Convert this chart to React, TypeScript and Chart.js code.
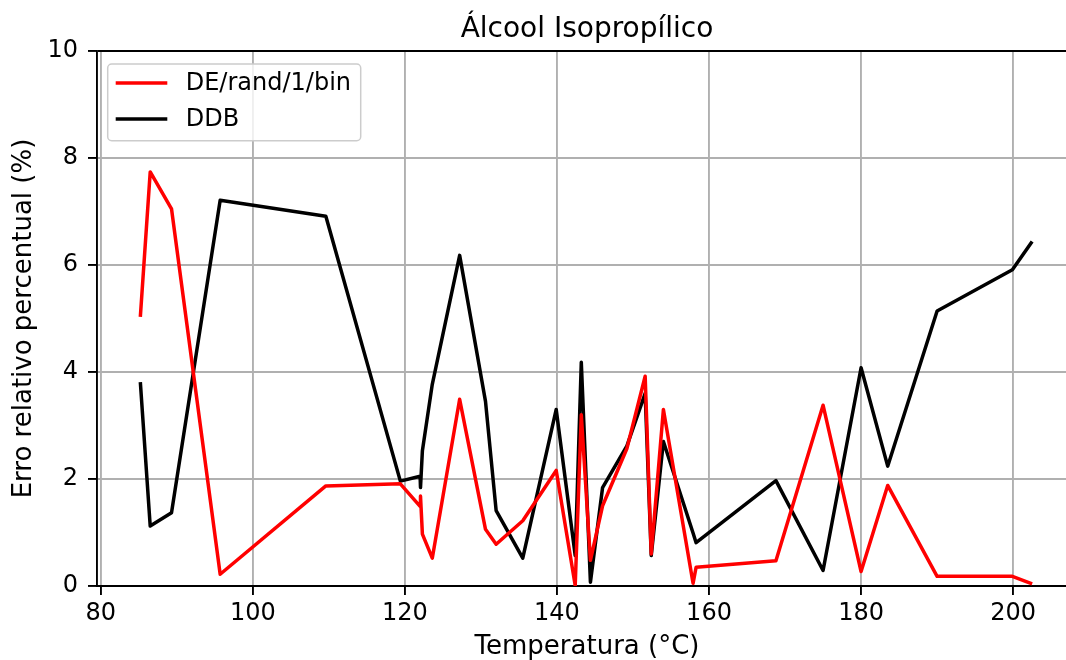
import React, { useEffect, useRef } from "react";
import { Chart, registerables } from "chart.js";

Chart.register(...registerables);

const TITLE = "Álcool Isopropílico";
const X_LABEL = "Temperatura (°C)";
const Y_LABEL = "Erro relativo percentual (%)";
const SERIES_NAMES = ["DE/rand/1/bin", "DDB"];

const temperatures = [
  85.2, 86.5, 89.3, 95.7, 109.6, 119.4, 122.0, 122.05, 122.3, 123.6,
  127.2, 130.6, 132.0, 135.5, 139.9, 142.4, 143.2, 144.4, 146.0, 149.2,
  151.6, 152.4, 154.0, 157.9, 158.3, 168.8, 175.0, 180.0, 183.5, 190.0,
  199.9, 202.5,
];
const deRand1Bin = [
  5.03, 7.74, 7.05, 0.22, 1.87, 1.91, 1.49, 1.68, 0.97, 0.52,
  3.49, 1.06, 0.78, 1.22, 2.16, 0.01, 3.2, 0.48, 1.5, 2.57,
  3.92, 0.6, 3.3, 0.05, 0.35, 0.47, 3.38, 0.27, 1.88, 0.18,
  0.18, 0.04,
];
const ddb = [
  3.81, 1.12, 1.37, 7.21, 6.91, 1.96, 2.05, 1.84, 2.53, 3.77,
  6.18, 3.45, 1.41, 0.52, 3.3, 0.57, 4.18, 0.07, 1.84, 2.62,
  3.6, 0.57, 2.7, 0.99, 0.81, 1.97, 0.29, 4.08, 2.24, 5.14,
  5.91, 6.44,
];
const xTicks = [80, 100, 120, 140, 160, 180, 200];
const yTicks = [0, 2, 4, 6, 8, 10];

const FONT = "DejaVu Sans";

const titlePlugin = {
  id: "mplTitle",
  afterDraw(chart: any) {
    const { ctx, chartArea } = chart;
    ctx.save();
    ctx.font = `28px "${FONT}"`;
    ctx.fillStyle = "#000";
    ctx.textAlign = "center";
    ctx.textBaseline = "alphabetic";
    ctx.fillText(TITLE, (chartArea.left + chartArea.right) / 2, 37);
    ctx.restore();
  },
};

const legendPlugin = {
  id: "mplLegend",
  afterDatasetsDraw(chart: any) {
    const { ctx } = chart;
    const x0 = 107.7, y0 = 64, w = 253, h = 76.7;
    ctx.save();
    ctx.beginPath();
    if (ctx.roundRect) ctx.roundRect(x0, y0, w, h, 4);
    else ctx.rect(x0, y0, w, h);
    ctx.fillStyle = "rgba(255,255,255,0.8)";
    ctx.fill();
    ctx.lineWidth = 1.5;
    ctx.strokeStyle = "#cccccc";
    ctx.stroke();
    const rows = [83, 119];
    chart.data.datasets.forEach((ds: any, i: number) => {
      const y = rows[i];
      ctx.beginPath();
      ctx.moveTo(115.7, y);
      ctx.lineTo(167.3, y);
      ctx.strokeStyle = ds.borderColor;
      ctx.lineWidth = 3.5;
      ctx.lineCap = "butt";
      ctx.stroke();
      ctx.font = `24px "${FONT}"`;
      ctx.fillStyle = "#000";
      ctx.textAlign = "left";
      ctx.textBaseline = "middle";
      ctx.fillText(ds.label, 185.7, y + 1);
    });
    ctx.restore();
  },
};

export default function App() {
  const ref = useRef<HTMLCanvasElement | null>(null);

  useEffect(() => {
    if (!ref.current) return;
    Chart.defaults.font.family = FONT;
    const mk = (ys: number[]) => temperatures.map((t, i) => ({ x: t, y: ys[i] }));
    const chart = new Chart(ref.current, {
      type: "line",
      data: {
        datasets: [
          {
            label: SERIES_NAMES[0],
            data: mk(deRand1Bin),
            borderColor: "#ff0000",
            borderWidth: 3.5,
            pointRadius: 0,
            pointHoverRadius: 0,
            tension: 0,
            fill: false,
            borderJoinStyle: "round",
          },
          {
            label: SERIES_NAMES[1],
            data: mk(ddb),
            borderColor: "#000000",
            borderWidth: 3.5,
            pointRadius: 0,
            pointHoverRadius: 0,
            tension: 0,
            fill: false,
            borderJoinStyle: "round",
          },
        ],
      },
      plugins: [titlePlugin, legendPlugin],
      options: {
        animation: false,
        responsive: false,
        devicePixelRatio: 1,
        events: [],
        layout: { padding: { top: 51, left: 0, right: 0, bottom: 0 } },
        plugins: {
          legend: { display: false },
          title: { display: false },
          tooltip: { enabled: false },
        },
        scales: {
          x: {
            type: "linear",
            min: 79.5,
            max: 208.4,
            afterBuildTicks: (s: any) => {
              s.ticks = xTicks.map((v) => ({ value: v }));
            },
            afterFit: (s: any) => {
              s.height = 74;
            },
            ticks: {
              color: "#000",
              font: { family: FONT, size: 24 },
              padding: 4.3,
              maxRotation: 0,
              autoSkip: false,
            },
            grid: {
              color: "#b0b0b0",
              lineWidth: 1.9,
              tickColor: "#000",
              tickLength: 9,
              tickWidth: 1.9,
            },
            border: { color: "#000", width: 1.9 },
            title: {
              display: true,
              text: X_LABEL,
              color: "#000",
              font: { family: FONT, size: 26, lineHeight: 1 },
              padding: { top: 0, bottom: 0 },
            },
          },
          y: {
            type: "linear",
            min: 0,
            max: 10,
            afterBuildTicks: (s: any) => {
              s.ticks = yTicks.map((v) => ({ value: v }));
            },
            afterFit: (s: any) => {
              s.width = 97;
            },
            ticks: {
              color: "#000",
              font: { family: FONT, size: 24 },
              padding: 10,
            },
            grid: {
              color: (c: any) =>
                c.tick && (c.tick.value === 10 || c.tick.value === 0) ? "#000" : "#b0b0b0",
              lineWidth: 1.9,
              tickColor: "#000",
              tickLength: 9,
              tickWidth: 1.9,
            },
            border: { color: "#000", width: 1.9 },
            title: {
              display: true,
              text: Y_LABEL,
              color: "#000",
              font: { family: FONT, size: 26, lineHeight: 1 },
              padding: { top: 11.6, bottom: 0 },
            },
          },
        },
      } as any,
    });
    return () => chart.destroy();
  }, []);

  return (
    <div
      style={{
        position: "absolute",
        left: 0,
        top: 0,
        width: 1066,
        height: 660,
        overflow: "hidden",
        background: "#fff",
      }}
    >
      <canvas ref={ref} width={1077} height={660} style={{ width: 1077, height: 660, display: "block" }} />
    </div>
  );
}
